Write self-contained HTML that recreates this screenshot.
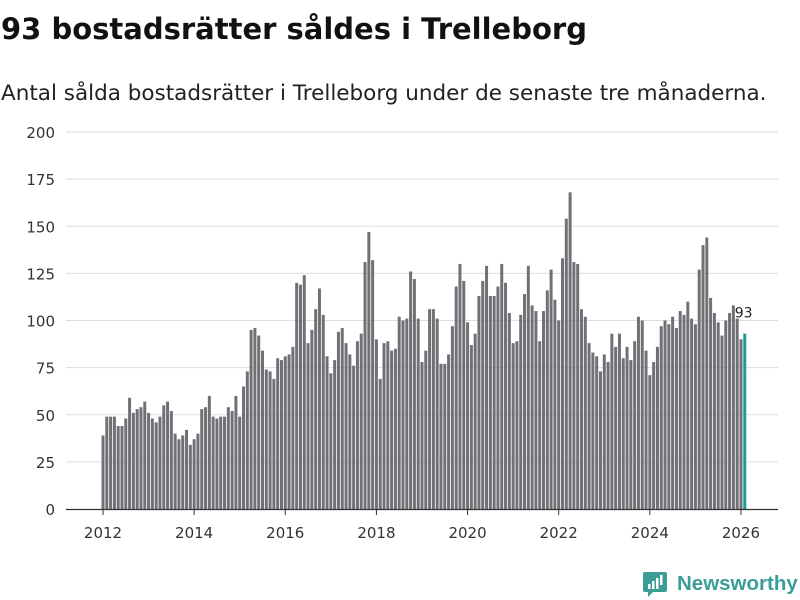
<!DOCTYPE html>
<html><head><meta charset="utf-8"><style>
body{margin:0;background:#fff;font-family:"DejaVu Sans","Liberation Sans",sans-serif;}
#c{position:relative;width:800px;height:600px;overflow:hidden}
</style></head><body>
<div id="c">
<svg width="800" height="600" id="svg" font-family="DejaVu Sans, Liberation Sans, sans-serif">
<text x="1" y="39" font-size="29" font-weight="bold" fill="#111">93 bostadsrätter såldes i Trelleborg</text>
<text x="1" y="100" font-size="21.5" fill="#222">Antal sålda bostadsrätter i Trelleborg under de senaste tre månaderna.</text>
<g id="grid"></g><g id="bars"></g><g id="xax"></g>
<g>
<path d="M645 572 h20 a2 2 0 0 1 2 2 v16 a2 2 0 0 1 -2 2 h-12 l-5 5 v-5 h-3 a2 2 0 0 1 -2 -2 v-16 a2 2 0 0 1 2 -2z" fill="#3a9e97"/>
<rect x="648" y="584" width="2.5" height="5" fill="#fff"/><rect x="652" y="581" width="2.5" height="8" fill="#fff"/><rect x="656" y="578" width="2.5" height="11" fill="#fff"/><rect x="660" y="575" width="2.5" height="10" fill="#fff"/>
<text x="677" y="590" font-size="20.5" font-weight="bold" font-family="Liberation Sans, sans-serif" fill="#3a9e97">Newsworthy</text>
</g>
</svg></div>
<script>
const values=[39,49,49,49,44,44,48,59,51,53,54,57,51,48,46,49,55,57,52,40,37,39,42,34,37,40,53,54,60,49,48,49,49,54,52,60,49,65,73,95,96,92,84,
74,73,69,80,79,81,82,86,120,119,124,88,95,106,117,103,81,72,79,94,96,88,82,76,89,93,131,147,132,90,69,88,89,84,85,102,100,101,126,122,101,78,
84,106,106,101,77,77,82,97,118,130,121,99,87,93,113,121,129,113,113,118,130,120,104,88,89,103,114,129,108,105,89,105,116,127,111,100,133,154,168,131,130,106,102,88,83,81,
73,82,78,93,86,93,80,86,79,89,102,100,84,71,78,86,97,100,98,102,96,105,103,110,101,98,127,140,144,112,104,99,92,100,104,108,101,90,93];
const startYear=2012;
const yTicks=[0,25,50,75,100,125,150,175,200];
const xTicks=[2012,2014,2016,2018,2020,2022,2024,2026];
const ns="http://www.w3.org/2000/svg";
const y=v=>509-v*377/200;
const x=yr=>103+(yr-2012)*45.57;
function mk(t,a,p){const e=document.createElementNS(ns,t);for(const k in a)e.setAttribute(k,a[k]);p.appendChild(e);return e;}
const grid=document.getElementById('grid'),bars=document.getElementById('bars'),xax=document.getElementById('xax');
yTicks.forEach(t=>{
 if(t>0){const l=mk('line',{x1:66,x2:778,y1:y(t),y2:y(t),stroke:'#ddd','stroke-width':1},grid);
 
 }
 const tx=mk('text',{x:55,y:y(t)+6,'font-size':15,fill:'#333','text-anchor':'end'},grid);tx.textContent=t;
 
 
});
values.forEach((v,i)=>{
 const last=i===values.length-1;
 const r=mk('rect',{x:x(startYear+i/12)-1.5,y:y(v),width:3,height:509-y(v),fill:last?'#199e93':'#717076'},bars);
 
 
 if(last){const t=mk('text',{x:x(startYear+i/12)-10,y:y(v)-16,'font-size':14,fill:'#222'},bars);t.textContent=v;
 
 }
});
const base=mk('line',{x1:66,x2:778,y1:509.5,y2:509.5,stroke:'#333','stroke-width':1.2},xax);


xTicks.forEach(t=>{
 mk('line',{x1:x(t),x2:x(t),y1:509,y2:515,stroke:'#333'},xax);
 const tx=mk('text',{x:x(t),y:538,'font-size':15,fill:'#333','text-anchor':'middle'},xax);tx.textContent=t;
 
 
});
</script>
</body></html>
